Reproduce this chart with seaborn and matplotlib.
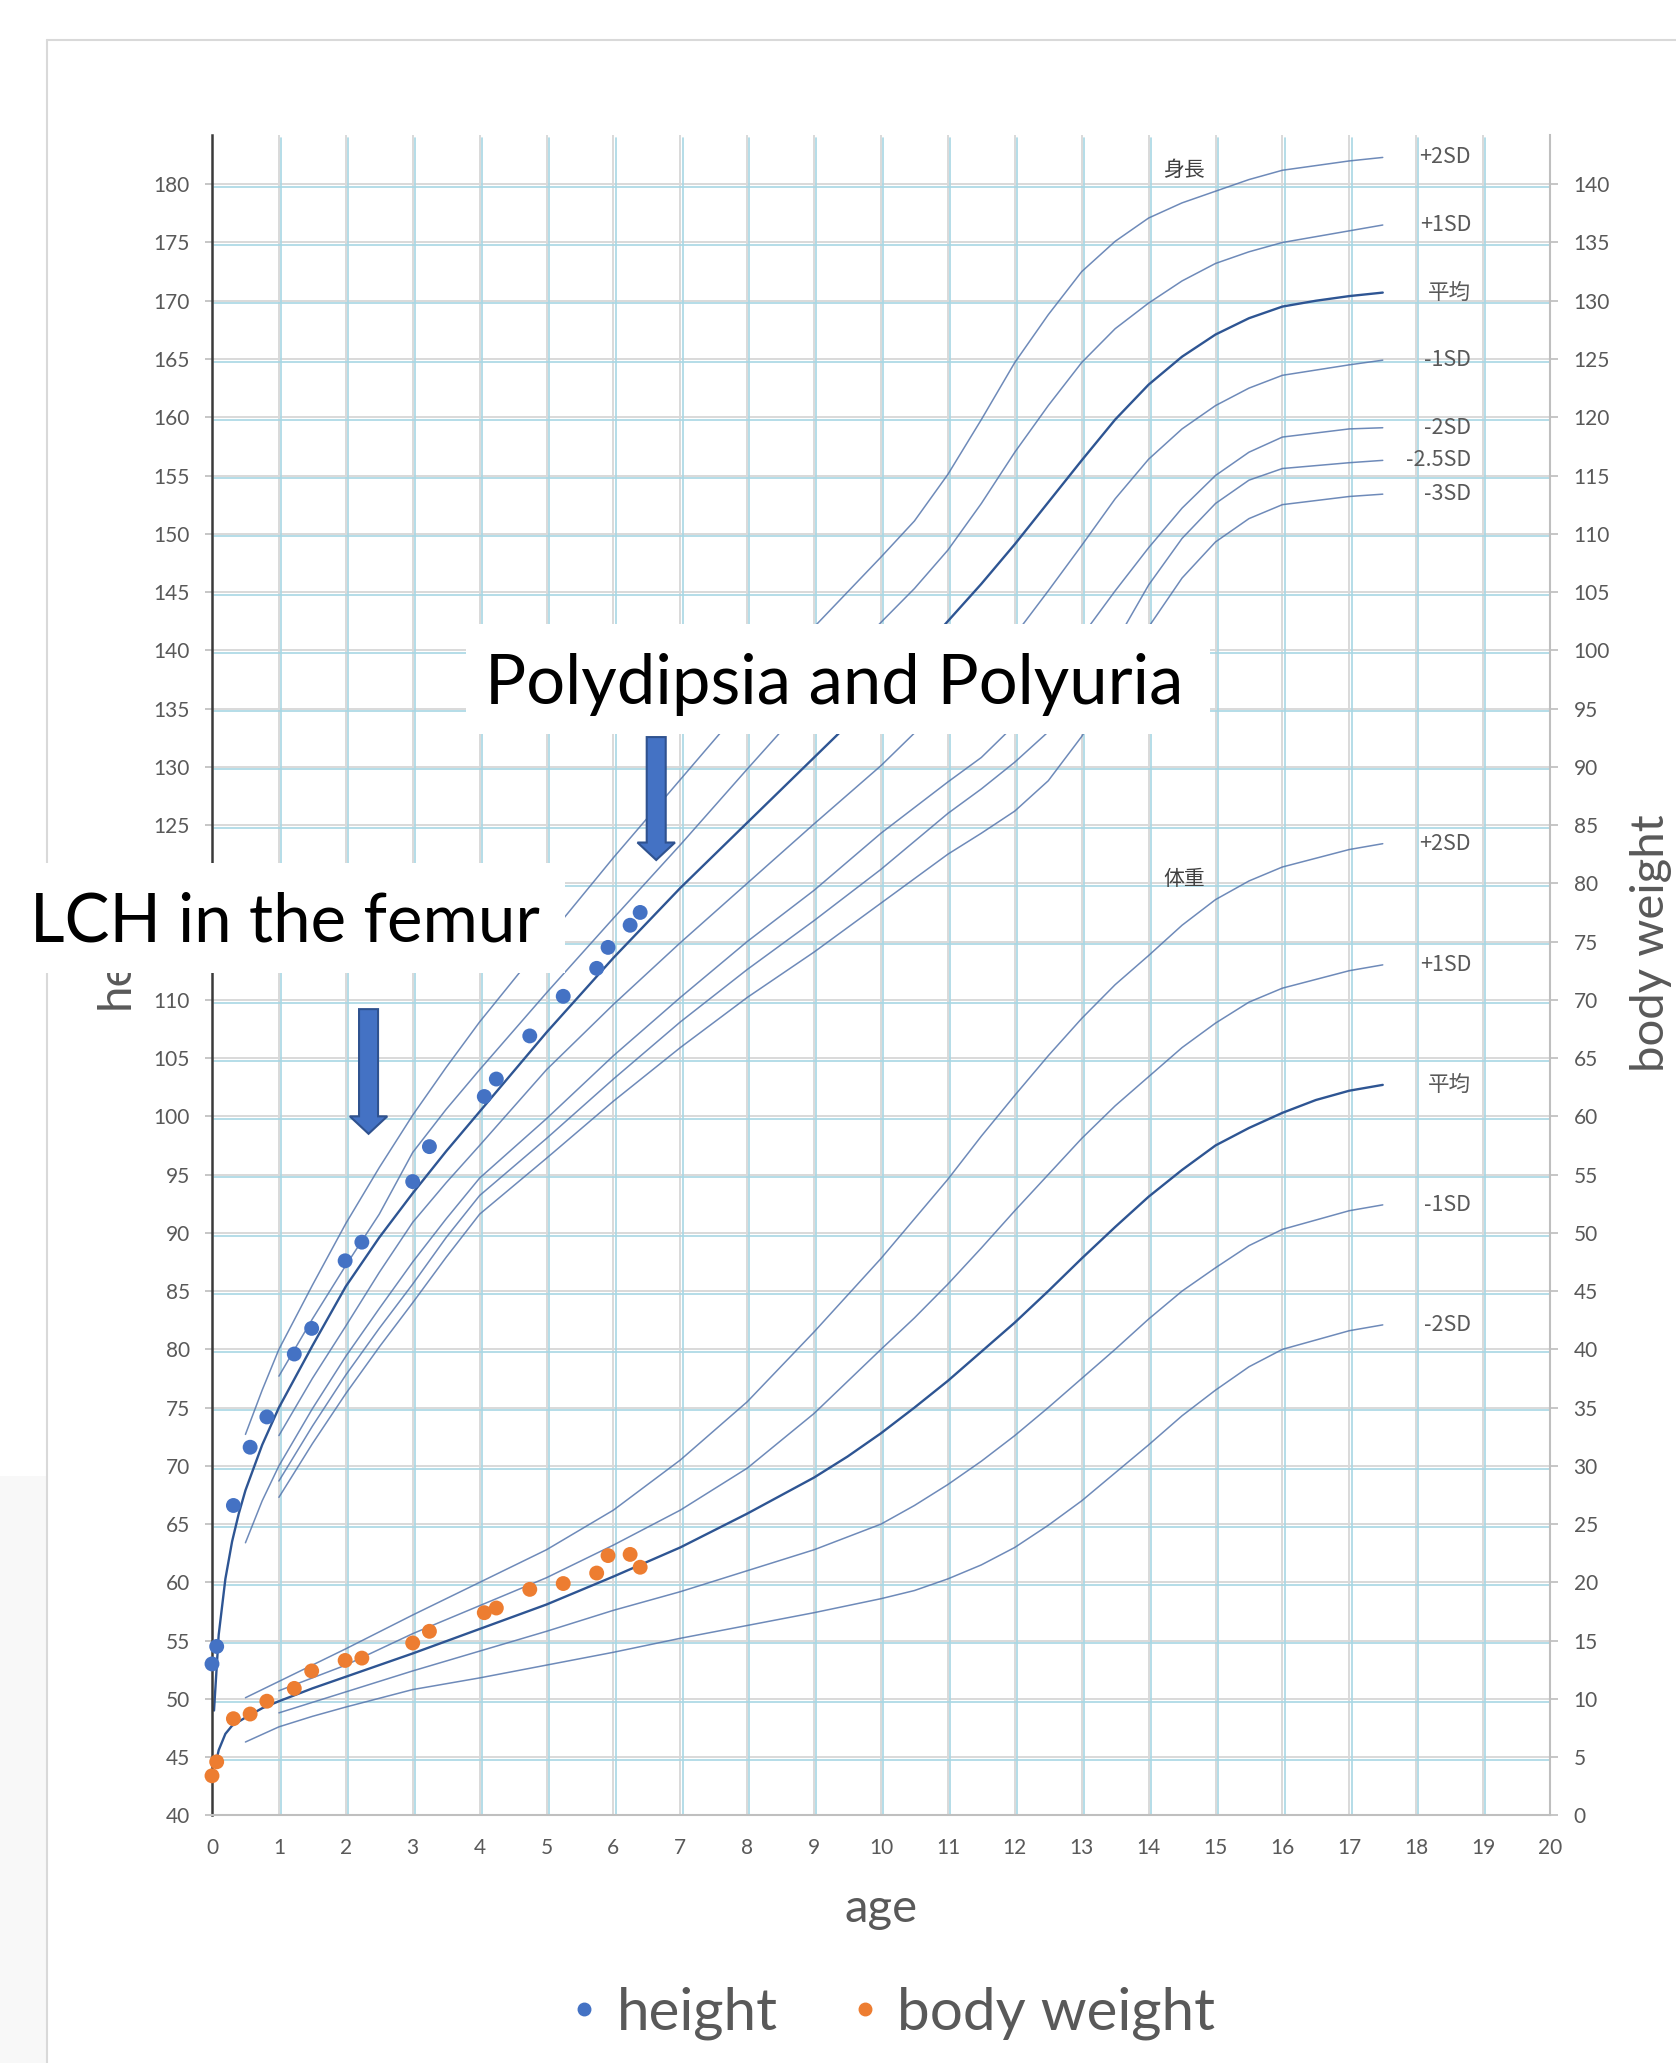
import numpy as np
import pandas as pd
import seaborn as sns
import matplotlib.pyplot as plt
import matplotlib.transforms as mtransforms
from matplotlib.patches import Rectangle, FancyArrow
from matplotlib.lines import Line2D

# patient measurements
age_pt = [0, 0.07, 0.32, 0.57, 0.82, 1.23, 1.49, 1.99, 2.24, 3.0, 3.25,
          4.07, 4.25, 4.75, 5.25, 5.75, 5.92, 6.25, 6.4]
height_pt = [53.0, 54.5, 66.6, 71.6, 74.2, 79.6, 81.8, 87.6, 89.2, 94.4, 97.4,
             101.7, 103.2, 106.9, 110.3, 112.7, 114.5, 116.4, 117.5]
weight_pt = [3.4, 4.6, 8.3, 8.7, 9.8, 10.9, 12.4, 13.3, 13.5, 14.8, 15.8,
             17.4, 17.8, 19.4, 19.9, 20.8, 22.3, 22.4, 21.3]

# height reference curves (cm)
h_p2_age = [0.5, 0.75, 1, 1.5, 2, 2.5, 3, 3.5, 4, 5, 6, 7, 8, 9, 10, 10.5, 11, 11.5,
            12, 12.5, 13, 13.5, 14, 14.5, 15, 15.5, 16, 17, 17.5]
h_p2 = [72.7, 76.5, 80.0, 85.5, 90.8, 95.6, 100.1, 104.2, 108.1, 115.2, 122.2, 128.9,
        135.6, 142.0, 148.0, 151.1, 155.1, 159.8, 164.7, 168.8, 172.5, 175.1, 177.1,
        178.4, 179.4, 180.4, 181.2, 182.0, 182.3]

h_p1_age = [1, 1.5, 2, 2.5, 3, 3.5, 4, 5, 6, 7, 8, 9, 10, 10.5, 11, 11.5, 12, 12.5,
            13, 13.5, 14, 14.5, 15, 15.5, 16, 17, 17.5]
h_p1 = [77.7, 82.6, 87.2, 91.6, 96.9, 100.6, 104.0, 110.6, 117.0, 123.3, 129.8, 136.2,
        142.4, 145.3, 148.6, 152.6, 157.0, 161.0, 164.7, 167.6, 169.8, 171.7, 173.2,
        174.2, 175.0, 176.0, 176.5]

h_mean_age = [0.03, 0.1, 0.2, 0.3, 0.4, 0.5, 0.75, 1, 1.5, 2, 2.5, 3, 3.5, 4, 5, 6, 7,
              8, 9, 10, 10.5, 11, 11.5, 12, 12.5, 13, 13.5, 14, 14.5, 15, 15.5, 16,
              16.5, 17, 17.5]
h_mean = [49.0, 55.5, 60.3, 63.5, 65.9, 67.9, 71.8, 75.0, 80.3, 85.4, 89.6, 93.4, 97.0,
          100.4, 107.2, 113.6, 119.6, 125.2, 130.8, 136.4, 139.3, 142.5, 145.7, 149.1,
          152.7, 156.3, 159.8, 162.8, 165.2, 167.1, 168.5, 169.5, 170.0, 170.4, 170.7]

h_m1_age = [1, 1.5, 2, 2.5, 3, 3.5, 4, 5, 6, 7, 8, 9, 10, 10.5, 11, 11.5, 12, 12.5,
            13, 13.5, 14, 14.5, 15, 15.5, 16, 17, 17.5]
h_m1 = [72.6, 77.5, 82.0, 86.6, 90.9, 94.3, 97.5, 104.0, 109.6, 114.9, 120.0, 125.1,
        130.1, 132.9, 135.8, 138.6, 141.3, 145.1, 149.0, 153.0, 156.4, 159.0, 161.0,
        162.5, 163.6, 164.5, 164.9]

h_m2_age = [0.5, 0.75, 1, 1.5, 2, 2.5, 3, 3.5, 4, 5, 6, 7, 8, 9, 10, 11, 11.5, 12,
            12.5, 13, 13.5, 14, 14.5, 15, 15.5, 16, 17, 17.5]
h_m2 = [63.4, 67.0, 70.0, 74.9, 79.4, 83.5, 87.5, 91.2, 94.7, 99.8, 105.2, 110.2,
        115.0, 119.4, 124.3, 128.7, 130.8, 133.6, 137.3, 141.2, 145.1, 148.8, 152.2,
        155.0, 157.0, 158.3, 159.0, 159.1]

h_m25_age = [1, 1.5, 2, 2.5, 3, 3.5, 4, 5, 6, 7, 8, 9, 10, 11, 11.5, 12, 12.5, 13,
             13.5, 14, 14.5, 15, 15.5, 16, 17, 17.5]
h_m25 = [68.7, 73.4, 77.8, 81.8, 85.6, 89.6, 93.2, 98.1, 103.2, 108.1, 112.6, 116.8,
         121.2, 126.0, 128.1, 130.4, 133.0, 136.4, 140.6, 145.6, 149.6, 152.6, 154.6,
         155.6, 156.1, 156.3]

h_m3_age = [1, 1.5, 2, 2.5, 3, 3.5, 4, 5, 6, 7, 8, 9, 10, 11, 11.5, 12, 12.5, 13,
            13.5, 14, 14.5, 15, 15.5, 16, 17, 17.5]
h_m3 = [67.3, 71.9, 76.2, 80.2, 84.0, 87.9, 91.6, 96.4, 101.3, 105.9, 110.2, 114.1,
        118.3, 122.5, 124.3, 126.2, 128.8, 132.6, 137.4, 142.0, 146.2, 149.3, 151.3,
        152.5, 153.2, 153.4]

# body weight reference curves (kg)
w_p2_age = [0.5, 1, 1.5, 2, 3, 4, 5, 6, 7, 8, 9, 10, 10.5, 11, 11.5, 12, 12.5, 13,
            13.5, 14, 14.5, 15, 15.5, 16, 17, 17.5]
w_p2 = [10.1, 11.5, 12.9, 14.3, 17.2, 20.0, 22.8, 26.2, 30.5, 35.5, 41.5, 47.8, 51.2,
        54.6, 58.3, 61.8, 65.2, 68.4, 71.3, 73.8, 76.4, 78.6, 80.2, 81.4, 82.9, 83.4]

w_p1_age = [1, 1.5, 2, 3, 4, 5, 6, 7, 8, 9, 10, 10.5, 11, 11.5, 12, 12.5, 13, 13.5,
            14, 14.5, 15, 15.5, 16, 17, 17.5]
w_p1 = [10.7, 11.8, 12.9, 15.6, 18.0, 20.4, 23.2, 26.2, 29.8, 34.5, 40.0, 42.7, 45.6,
        48.7, 51.9, 55.0, 58.1, 60.9, 63.4, 65.9, 68.0, 69.8, 71.0, 72.5, 73.0]

w_mean_age = [0.05, 0.1, 0.2, 0.3, 0.5, 0.75, 1, 1.5, 2, 3, 4, 5, 6, 7, 8, 9, 9.5, 10,
              10.5, 11, 11.5, 12, 12.5, 13, 13.5, 14, 14.5, 15, 15.5, 16, 16.5, 17, 17.5]
w_mean = [4.3, 5.6, 7.0, 7.7, 8.4, 9.2, 9.8, 10.9, 11.9, 13.9, 16.0, 18.1, 20.5, 23.0,
          25.9, 29.0, 30.8, 32.8, 35.0, 37.3, 39.8, 42.3, 45.0, 47.8, 50.5, 53.1, 55.4,
          57.5, 59.0, 60.3, 61.4, 62.2, 62.7]

w_m1_age = [1, 1.5, 2, 3, 4, 5, 6, 7, 8, 9, 10, 10.5, 11, 11.5, 12, 12.5, 13, 13.5,
            14, 14.5, 15, 15.5, 16, 17, 17.5]
w_m1 = [8.8, 9.7, 10.6, 12.4, 14.1, 15.8, 17.6, 19.2, 21.0, 22.8, 25.0, 26.6, 28.4,
        30.4, 32.6, 35.0, 37.5, 40.0, 42.6, 45.0, 47.0, 48.9, 50.3, 51.9, 52.4]

w_m2_age = [0.5, 1, 1.5, 2, 3, 4, 5, 6, 7, 8, 9, 10, 10.5, 11, 11.5, 12, 12.5, 13,
            13.5, 14, 14.5, 15, 15.5, 16, 17, 17.5]
w_m2 = [6.3, 7.6, 8.5, 9.3, 10.8, 11.8, 12.9, 14.0, 15.2, 16.3, 17.4, 18.6, 19.3, 20.3,
        21.5, 23.0, 24.9, 27.0, 29.4, 31.8, 34.3, 36.5, 38.5, 40.0, 41.6, 42.1]

h_labels = ['+2SD', '+1SD', '平均', '-1SD', '-2SD', '-2.5SD', '-3SD']
w_labels = ['+2SD', '+1SD', '平均', '-1SD', '-2SD']

age_ticks = list(range(0, 21))
height_ticks = list(range(40, 181, 5))
weight_ticks = list(range(0, 141, 5))

sns.set_theme(style='white')
plt.rcParams['font.family'] = ['Lato', 'Noto Sans CJK JP', 'DejaVu Sans']
cjk = ['Noto Sans CJK JP', 'DejaVu Sans']

W, H = 1676, 2063
fig = plt.figure(figsize=(W / 100, H / 100), dpi=100)
fig.patch.set_facecolor('white')
ax = fig.add_axes([212 / W, 1 - 1815.4 / H, 1338 / W, (1815.4 - 135.3) / H])
ax2 = ax.twinx()

ax.set_xlim(0, 20)
ax.set_ylim(40, 184.2)
ax2.set_ylim(0, 144.2)

# double grid: grey lines with a pale blue copy just beside them
gray, pale = '#d9d9d9', '#a8d7e4'
shift = mtransforms.offset_copy(ax.transData, fig=fig, x=2.2, y=-2.7, units='dots')
for yv in height_ticks[1:]:
    ax.plot([0, 20], [yv, yv], color=gray, lw=1.4, zorder=0.5)
    ax.plot([0, 20], [yv, yv], color=pale, lw=1.2, zorder=0.6, transform=shift)
for xv in age_ticks[1:]:
    ax.plot([xv, xv], [40, 184.2], color=gray, lw=1.4, zorder=0.5)
    ax.plot([xv, xv], [40, 184.2], color=pale, lw=1.2, zorder=0.6, transform=shift)

thin, dark = '#5576ad', '#2e5593'
h_curves = [(h_p2_age, h_p2), (h_p1_age, h_p1), (h_mean_age, h_mean), (h_m1_age, h_m1),
            (h_m2_age, h_m2), (h_m25_age, h_m25), (h_m3_age, h_m3)]
w_curves = [(w_p2_age, w_p2), (w_p1_age, w_p1), (w_mean_age, w_mean),
            (w_m1_age, w_m1), (w_m2_age, w_m2)]

lab_kw = dict(ha='right', va='center', fontsize=15.5, color='#595959', family=cjk, zorder=1)
for i, (a, v) in enumerate(h_curves):
    mean = h_labels[i] == '平均'
    sns.lineplot(x=a, y=v, ax=ax, color=dark if mean else thin, lw=1.7 if mean else 1.1,
                 alpha=1 if mean else 0.85, sort=False, estimator=None, zorder=2)
    ax.text(18.82, v[-1], h_labels[i], **lab_kw)
for i, (a, v) in enumerate(w_curves):
    mean = w_labels[i] == '平均'
    sns.lineplot(x=a, y=v, ax=ax2, color=dark if mean else thin, lw=1.7 if mean else 1.1,
                 alpha=1 if mean else 0.85, sort=False, estimator=None, zorder=2)
    ax2.text(18.82, v[-1], w_labels[i], **lab_kw)
ax.text(14.53, 181.2, '身長', ha='center', va='center', fontsize=15, color='#404040', family=cjk)
ax2.text(14.53, 80.35, '体重', ha='center', va='center', fontsize=15, color='#404040', family=cjk)

sns.scatterplot(x=age_pt, y=height_pt, ax=ax, color='#4472c4', s=115, edgecolor='none',
                zorder=4, legend=False, clip_on=False)
sns.scatterplot(x=age_pt, y=weight_pt, ax=ax2, color='#ed7d31', s=115, edgecolor='none',
                zorder=4, legend=False, clip_on=False)

ax.set_xticks(age_ticks)
ax.set_yticks(height_ticks)
ax2.set_yticks(weight_ticks)
ax.tick_params(axis='x', length=0, pad=16.5, labelsize=15, labelcolor='#595959')
ax.tick_params(axis='y', left=True, length=5, color='#bfbfbf', pad=11, labelsize=15,
               labelcolor='#595959')
ax2.tick_params(axis='y', right=True, length=6, color='#bfbfbf', pad=11, labelsize=15,
                labelcolor='#595959')

for s in ['top', 'right']:
    ax.spines[s].set_visible(False)
for s in ['top', 'left', 'bottom']:
    ax2.spines[s].set_visible(False)
ax.spines['left'].set_color('#3a3a3a')
ax.spines['left'].set_linewidth(1.8)
ax.spines['bottom'].set_color('#bfbfbf')
ax.spines['bottom'].set_linewidth(1.5)
ax2.spines['right'].set_color('#bfbfbf')
ax2.spines['right'].set_linewidth(1.5)

ax.set_xlabel('age', fontsize=34, color='#595959')
ax.xaxis.set_label_coords(0.5, -0.0555)
ax.xaxis.label.set_va('center')
ax.set_ylabel('height', fontsize=34, color='#595959')
ax.yaxis.set_label_coords(-0.072, 0.519)
ax.yaxis.label.set_va('center')
ax2.set_ylabel('body weight', fontsize=34, color='#595959')
ax2.yaxis.set_label_coords(1.0755, 0.519)
ax2.yaxis.label.set_va('center')

# outer chart frame
fig.add_artist(Rectangle((0, 0), 46 / W, 1 - 1476 / H, transform=fig.transFigure,
                         facecolor='#f8f8f8', edgecolor='none', zorder=-1))
fig.add_artist(Line2D([47 / W, 47 / W], [1 - 40 / H, 0], transform=fig.transFigure,
                      color='#d9d9d9', lw=1.5))
fig.add_artist(Line2D([47 / W, 1], [1 - 40 / H, 1 - 40 / H], transform=fig.transFigure,
                      color='#d9d9d9', lw=1.5))


def white_box(x0, y0, x1, y1):
    return Rectangle((x0 / W, 1 - y1 / H), (x1 - x0) / W, (y1 - y0) / H,
                     transform=fig.transFigure, facecolor='white', edgecolor='none',
                     zorder=10)


fig.add_artist(white_box(466, 624, 1210, 734))
fig.add_artist(white_box(0, 863, 565, 973))
fig.text(834 / W, 1 - 704 / H, 'Polydipsia and Polyuria', ha='center', va='baseline',
         fontsize=49.5, color='black', zorder=11)
fig.text(285 / W, 1 - 942 / H, 'LCH in the femur', ha='center', va='baseline',
         fontsize=48.5, color='black', zorder=11)

# block arrows (age, top, tip in height units)
arrow_age = [6.64, 2.34]
arrow_top = [132.55, 109.2]
arrow_tip = [122.0, 98.5]
for x, y0, y1 in zip(arrow_age, arrow_top, arrow_tip):
    fig.add_artist(FancyArrow(x, y0, 0, y1 - y0, width=0.284, head_width=0.56,
                              head_length=1.5, length_includes_head=True,
                              transform=ax.transData, facecolor='#4472c4',
                              edgecolor='#2f528f', lw=1.5, zorder=11))

handles = [Line2D([], [], marker='o', ls='', color='#4472c4', markersize=9),
           Line2D([], [], marker='o', ls='', color='#ed7d31', markersize=9)]
fig.legend(handles, ['height', 'body weight'], loc='center',
           bbox_to_anchor=(0.5316, 1 - 2013 / H), ncol=2, frameon=False, fontsize=42,
           labelcolor='#595959', handlelength=0.6, handletextpad=0.25, columnspacing=1.2)

fig.savefig('out.png', dpi=100, facecolor='white')
